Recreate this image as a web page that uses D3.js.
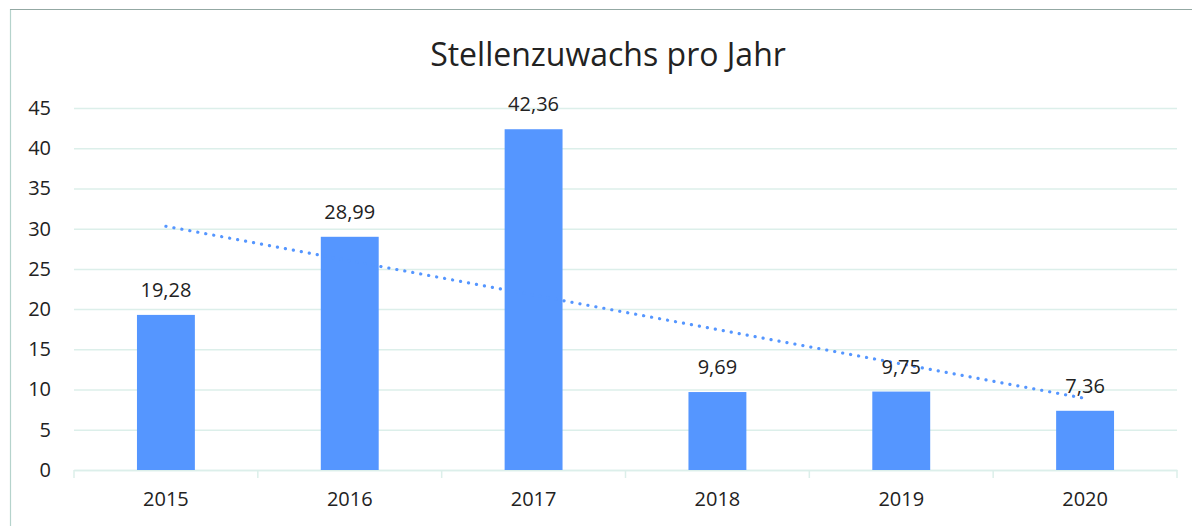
<!DOCTYPE html>
<html><head><meta charset="utf-8">
<script src="https://cdn.jsdelivr.net/npm/d3@7"></script>
<style>html,body{margin:0;padding:0;background:#fff;}svg{display:block;}</style>
</head><body>
<svg id="chart" width="1192" height="526"></svg>
<script>
const title = "Stellenzuwachs pro Jahr";
const years = ["2015","2016","2017","2018","2019","2020"];
const values = [19.28, 28.99, 42.36, 9.69, 9.75, 7.36];
const valueLabels = ["19,28","28,99","42,36","9,69","9,75","7,36"];
const yTicks = [0,5,10,15,20,25,30,35,40,45];
// linear trend line endpoints (first and last year)
const trendYears = ["2015","2020"];
const trendValues = [30.3, 8.9];

const svg = d3.select("#chart");
const W = 1192, H = 526;
const m = {left: 74, right: 15, top: 108, bottom: 56};
const font = "'Open Sans', 'Noto Sans', sans-serif";
const textColor = "#222222";
const barColor = "#5596FF";
const gridColor = "#dcefea";
const fs = "20px";

// frame
svg.append("line").attr("x1",10.5).attr("x2",10.5).attr("y1",9).attr("y2",H).attr("stroke","#b5d3cc").attr("stroke-width",1.2);
svg.append("line").attr("x1",10).attr("x2",W).attr("y1",9.5).attr("y2",9.5).attr("stroke","#93a8a3").attr("stroke-width",1.2);

const x = d3.scaleBand().domain(years).range([m.left, W - m.right]).padding(0);
const y = d3.scaleLinear().domain([0,45]).range([H - m.bottom, m.top]);

// gridlines
const yAxis = d3.axisLeft(y).tickValues(yTicks).tickSize(-(W - m.right - m.left)).tickPadding(23).tickFormat(d3.format("d"));
const gy = svg.append("g").attr("transform",`translate(${m.left},0)`).call(yAxis);
gy.select(".domain").remove();
gy.selectAll(".tick line").attr("stroke",gridColor).attr("stroke-width",1.5);
gy.selectAll(".tick text").attr("fill",textColor).style("font-family",font).style("font-size",fs);

// x axis
const xAxis = d3.axisBottom(x).tickSize(0).tickPadding(22);
const gx = svg.append("g").attr("transform",`translate(0,${y(0)})`).call(xAxis);
gx.select(".domain").attr("stroke",gridColor).attr("stroke-width",1.5);
gx.selectAll(".tick text").attr("fill",textColor).style("font-family",font).style("font-size",fs);
// boundary tick marks
const bounds = years.map(d => x(d)).concat([x(years[years.length-1]) + x.bandwidth()]);
svg.append("g").selectAll("line").data(bounds).join("line")
  .attr("x1",d=>d).attr("x2",d=>d).attr("y1",y(0)).attr("y2",y(0)+8)
  .attr("stroke",gridColor).attr("stroke-width",1.5);

// bars
const bw = x.bandwidth()*0.315;
svg.append("g").selectAll("rect").data(values).join("rect")
  .attr("x",(d,i)=>x(years[i]) + x.bandwidth()/2 - bw/2)
  .attr("y",d=>y(d)).attr("width",bw).attr("height",d=>y(0)-y(d))
  .attr("fill",barColor);

// trend line
const line = d3.line().x((d,i)=>x(trendYears[i]) + x.bandwidth()/2).y(d=>y(d));
svg.append("path").attr("d",line(trendValues)).attr("fill","none")
  .attr("stroke",barColor).attr("stroke-width",3.2).attr("stroke-linecap","round")
  .attr("stroke-dasharray","0.1 8");

// value labels
svg.append("g").selectAll("text").data(values).join("text")
  .attr("x",(d,i)=>x(years[i]) + x.bandwidth()/2)
  .attr("y",d=>y(d) - 18)
  .attr("text-anchor","middle").attr("fill",textColor)
  .style("font-family",font).style("font-size",fs)
  .text((d,i)=>valueLabels[i]);

// title
svg.append("text").attr("x",608).attr("y",66).attr("text-anchor","middle")
  .attr("fill",textColor).style("font-family",font).style("font-size","32px")
  .text(title);
</script>
</body></html>
